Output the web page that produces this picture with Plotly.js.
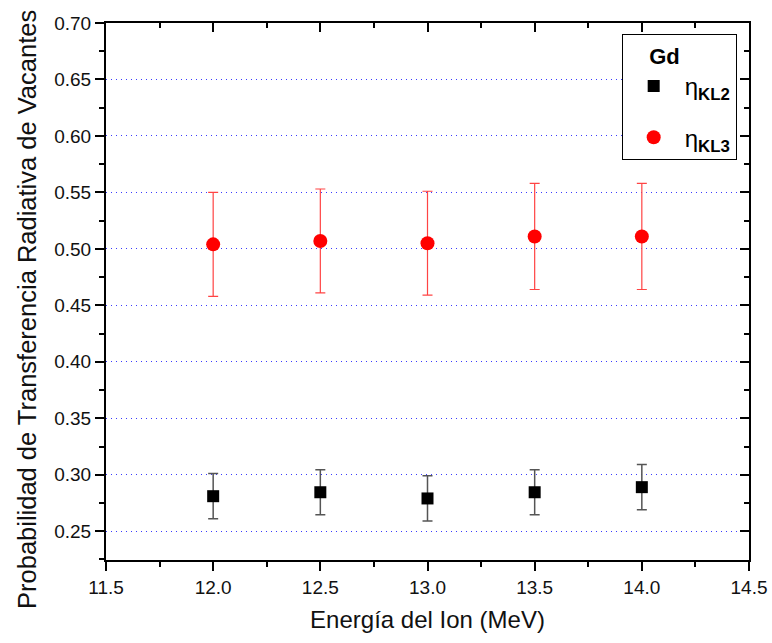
<!DOCTYPE html>
<html>
<head>
<meta charset="utf-8">
<script src="https://cdn.plot.ly/plotly-3.0.1.min.js"></script>
<style>html,body{margin:0;padding:0;background:#fff;}#chart{width:772px;height:643px;}</style>
</head>
<body>
<div id="chart"></div>
<script>
const energies = [12.0, 12.5, 13.0, 13.5, 14.0];
const etaKL2 = [0.281, 0.2845, 0.279, 0.2845, 0.289];
const errKL2 = [0.020, 0.020, 0.020, 0.020, 0.020];
const etaKL3 = [0.504, 0.507, 0.505, 0.511, 0.511];
const errKL3 = [0.046, 0.046, 0.046, 0.047, 0.047];
const seriesNames = ['η<sub><b>KL2</b></sub>', 'η<sub><b>KL3</b></sub>'];
const legendTitle = '<span style="color:rgba(255,255,255,0)">__</span><b>Gd</b>';
const xTitle = 'Energía del Ion (MeV)';
const yTitle = 'Probabilidad de Transferencia Radiativa de Vacantes';

const FONT = '"Liberation Sans", Arial, sans-serif';
const traces = [
  {
    x: energies, y: etaKL2, type: 'scatter', mode: 'markers', name: seriesNames[0],
    legendgroup: 'a',
    marker: {symbol: 'square', size: 12, color: '#000000'},
    error_y: {type: 'data', array: errKL2, visible: true, color: '#555555', thickness: 1.5, width: 5}
  },
  {
    x: energies, y: etaKL3, type: 'scatter', mode: 'markers', name: seriesNames[1],
    legendgroup: 'b',
    marker: {symbol: 'circle', size: 14, color: '#ff0000'},
    error_y: {type: 'data', array: errKL3, visible: true, color: '#ff4444', thickness: 1.2, width: 5}
  },
  {
    x: energies, y: etaKL2, xaxis: 'x2', yaxis: 'y2', type: 'scatter', mode: 'markers',
    marker: {opacity: 0}, showlegend: false, hoverinfo: 'skip'
  }
];

const xRange = [11.5, 14.5];
const yRange = [0.2245, 0.70];
const layout = {
  width: 772, height: 643,
  margin: {l: 106, r: 23, t: 23, b: 83},
  paper_bgcolor: '#ffffff', plot_bgcolor: '#ffffff',
  font: {family: FONT, color: '#111111'},
  showlegend: true,
  legend: {
    x: 0.802, y: 0.979, xanchor: 'left', yanchor: 'top',
    bordercolor: '#000000', borderwidth: 1, bgcolor: '#ffffff',
    font: {size: 24, family: FONT, color: '#000000'},
    title: {text: legendTitle, font: {size: 22, family: FONT, color: '#000000'}},
    traceorder: 'grouped', tracegroupgap: 17, itemwidth: 52
  },
  annotations: [{
    text: yTitle, textangle: -90, showarrow: false,
    xref: 'paper', yref: 'paper', x: -0.1229, y: 0.4674,
    xanchor: 'center', yanchor: 'middle',
    font: {size: 25.5, family: FONT, color: '#111111'}
  }],
  xaxis: {
    range: xRange, dtick: 0.5, tick0: 11.5, tickformat: '.1f',
    showline: true, linecolor: '#000000', linewidth: 2,
    ticks: 'outside', ticklen: 9, tickwidth: 2, tickcolor: '#000000',
    minor: {dtick: 0.25, tick0: 11.5, ticks: 'outside', ticklen: 5, tickwidth: 2, tickcolor: '#000000', showgrid: false},
    showgrid: false, zeroline: false,
    tickfont: {size: 19, family: FONT, color: '#111111'},
    title: {text: xTitle, font: {size: 24, family: FONT, color: '#111111'}, standoff: 14}
  },
  yaxis: {
    range: yRange, dtick: 0.05, tick0: 0.25, tickformat: '.2f',
    showline: true, linecolor: '#000000', linewidth: 2,
    ticks: 'outside', ticklen: 9, tickwidth: 2, tickcolor: '#000000',
    minor: {dtick: 0.025, tick0: 0.25, ticks: 'outside', ticklen: 5, tickwidth: 2, tickcolor: '#000000', showgrid: false},
    showgrid: true, gridcolor: '#3a3aff', griddash: '1px,4px', gridwidth: 1,
    zeroline: false,
    tickfont: {size: 19, family: FONT, color: '#111111'}
  },
  xaxis2: {
    range: xRange, dtick: 0.5, tick0: 11.5, overlaying: 'x', side: 'top', anchor: 'y2',
    showline: true, linecolor: '#000000', linewidth: 2,
    ticks: 'inside', ticklen: 9, tickwidth: 2, tickcolor: '#000000',
    minor: {dtick: 0.25, tick0: 11.5, ticks: 'inside', ticklen: 5, tickwidth: 2, tickcolor: '#000000', showgrid: false},
    showticklabels: false, showgrid: false, zeroline: false
  },
  yaxis2: {
    range: yRange, dtick: 0.05, tick0: 0.25, overlaying: 'y', side: 'right', anchor: 'x2',
    showline: true, linecolor: '#000000', linewidth: 2,
    ticks: 'inside', ticklen: 9, tickwidth: 2, tickcolor: '#000000',
    minor: {dtick: 0.025, tick0: 0.25, ticks: 'inside', ticklen: 5, tickwidth: 2, tickcolor: '#000000', showgrid: false},
    showticklabels: false, showgrid: false, zeroline: false
  }
};

Plotly.newPlot('chart', traces, layout, {displayModeBar: false, staticPlot: true});
</script>
</body>
</html>
